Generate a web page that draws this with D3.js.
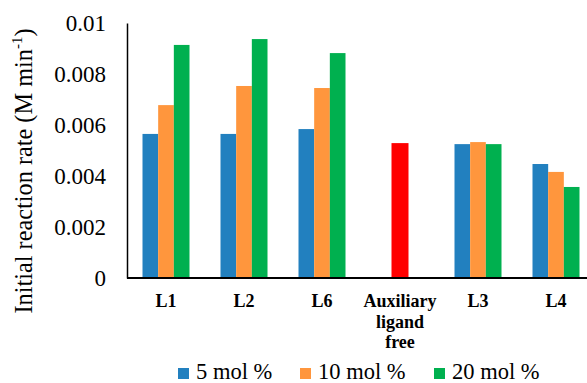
<!DOCTYPE html>
<html>
<head>
<meta charset="utf-8">
<script src="https://cdn.jsdelivr.net/npm/d3@7"></script>
<style>
  body { margin: 0; background: #fff; }
  text { font-family: "Liberation Serif", "Times New Roman", serif; }
</style>
</head>
<body>
<div id="chart"></div>
<script>
// data
const categories = ["L1", "L2", "L6", "Auxiliary ligand free", "L3", "L4"];
const seriesNames = ["5 mol %", "10 mol %", "20 mol %"];
const seriesColors = ["#2280bf", "#ff963d", "#00b04f"];
const rate5 = [0.00565, 0.00565, 0.00584, null, 0.00525, 0.00447];
const rate10 = [0.00678, 0.00753, 0.00745, null, 0.00533, 0.00416];
const rate20 = [0.00914, 0.00937, 0.00882, null, 0.00525, 0.00357];
const ligandFree = 0.00529; // no series for this one, drawn in red
const yTicks = [0, 0.002, 0.004, 0.006, 0.008, 0.01];
const yTickLabels = ["0", "0.002", "0.004", "0.006", "0.008", "0.01"];

const width = 587, height = 383;
const margin = {top: 23, right: -8, bottom: 105, left: 127};
const serif = "'Liberation Serif', 'Times New Roman', serif";

const svg = d3.select("#chart")
  .append("svg")
    .attr("width", width)
    .attr("height", height)
    .attr("font-family", serif);

const x = d3.scaleBand()
  .domain(categories)
  .range([margin.left, width - margin.right]);

const inner = d3.scaleBand()
  .domain(seriesNames)
  .range([0, 47]);

const y = d3.scaleLinear()
  .domain([0, 0.01])
  .range([height - margin.bottom, margin.top]);

const allSeries = [rate5, rate10, rate20];

// bars
allSeries.forEach((vals, si) => {
  svg.append("g")
    .selectAll("rect")
    .data(vals.map((v, i) => [categories[i], v]).filter(d => d[1] != null))
    .join("rect")
      .attr("x", d => x(d[0]) + (x.bandwidth() - 47) / 2 + inner(seriesNames[si]))
      .attr("y", d => y(d[1]))
      .attr("width", inner.bandwidth())
      .attr("height", d => y(0) - y(d[1]))
      .attr("fill", seriesColors[si]);
});

svg.append("rect")
  .attr("x", x(categories[3]) + x.bandwidth() / 2 - 8.5)
  .attr("y", y(ligandFree))
  .attr("width", 17)
  .attr("height", y(0) - y(ligandFree))
  .attr("fill", "#ff0000");

// y axis
const yAxis = d3.axisLeft(y)
  .tickValues(yTicks)
  .tickFormat((d, i) => yTickLabels[i])
  .tickSize(0)
  .tickPadding(21);

svg.append("g")
  .attr("transform", `translate(${margin.left}, 0)`)
  .call(yAxis)
  .attr("font-family", serif)
  .call(g => g.select(".domain").attr("stroke", "#000").attr("stroke-width", 1.5))
  .call(g => g.selectAll("text")
    .attr("font-size", 23)
    .attr("fill", "#000")
    .attr("dy", "0.34em"));

// x axis
svg.append("line")
  .attr("x1", margin.left)
  .attr("x2", width)
  .attr("y1", y(0))
  .attr("y2", y(0))
  .attr("stroke", "#000")
  .attr("stroke-width", 2);

const xLabelLines = {"Auxiliary ligand free": ["Auxiliary", "ligand", "free"]};
svg.append("g")
  .selectAll("text")
  .data(categories)
  .join("text")
    .attr("x", d => x(d) + x.bandwidth() / 2)
    .attr("y", 307)
    .attr("text-anchor", "middle")
    .attr("font-size", 18)
    .attr("font-weight", "bold")
    .each(function (d) {
      const lines = xLabelLines[d] || [d];
      d3.select(this).selectAll("tspan")
        .data(lines)
        .join("tspan")
          .attr("x", x(d) + x.bandwidth() / 2)
          .attr("dy", (l, i) => i === 0 ? 0 : 20.5)
          .text(l => l);
    });

// y title
svg.append("text")
  .attr("transform", `translate(32, 171) rotate(-90)`)
  .attr("text-anchor", "middle")
  .attr("font-size", 24.3)
  .call(t => {
    t.append("tspan").text("Initial reaction rate (M min");
    t.append("tspan").attr("font-size", 15).attr("dy", -10).text("-1");
    t.append("tspan").attr("dy", 10).text(")");
  });

// legend
const legendX = [178, 300, 434];
const legend = svg.append("g")
  .selectAll("g")
  .data(seriesNames)
  .join("g")
    .attr("transform", (d, i) => `translate(${legendX[i]}, 368)`);

legend.append("rect")
  .attr("width", 11)
  .attr("height", 11)
  .attr("fill", (d, i) => seriesColors[i]);

legend.append("text")
  .attr("x", 18)
  .attr("y", 10.5)
  .attr("font-size", 22.5)
  .text(d => d);
</script>
</body>
</html>
